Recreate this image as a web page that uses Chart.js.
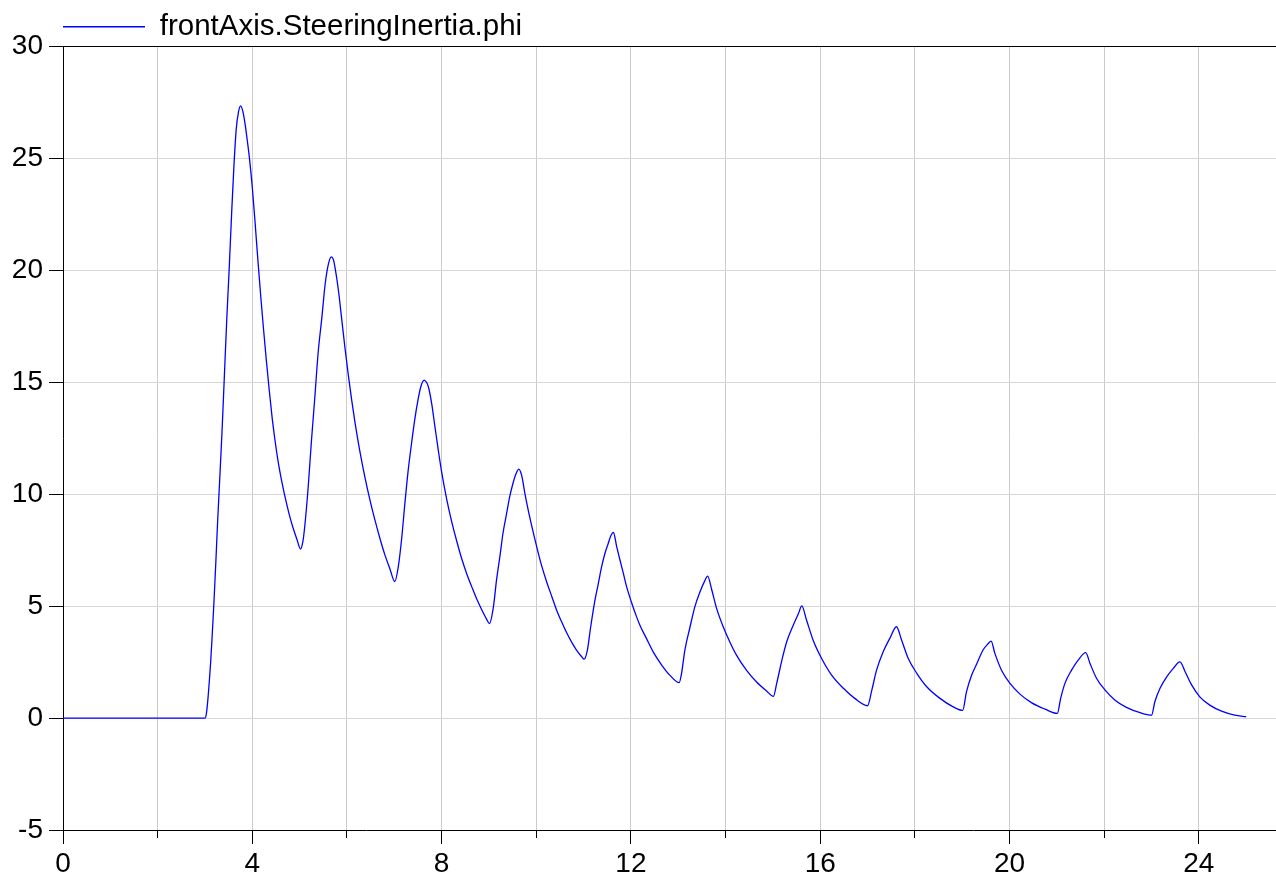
<!DOCTYPE html>
<html>
<head>
<meta charset="utf-8">
<script src="https://cdn.jsdelivr.net/npm/chart.js@4/dist/chart.umd.min.js"></script>
<style>
html,body{margin:0;padding:0;background:#fff;overflow:hidden}
canvas{display:block}
</style>
</head>
<body>
<canvas id="c" width="1276" height="879"></canvas>
<script>
// ---- data ----
const seriesLabel = 'frontAxis.SteeringInertia.phi';

const time = [
  0, 1, 2, 3.00, 3.03, 3.06, 3.09, 3.12, 3.15, 3.19, 3.23, 3.27, 3.31, 3.36, 3.41, 3.46, 3.51, 3.56, 3.61, 3.66, 3.71, 3.755, 3.80, 3.85,
  3.90, 3.94, 4.00, 4.06, 4.12, 4.18, 4.24, 4.30, 4.36, 4.42, 4.48, 4.55, 4.62, 4.70, 4.78, 4.86, 4.94, 5.02,
  5.07, 5.11, 5.18, 5.25, 5.32, 5.39, 5.47, 5.54, 5.61, 5.67, 5.71, 5.75, 5.82, 5.89, 5.96, 6.03, 6.10, 6.17, 6.27, 6.38, 6.49, 6.59, 6.70, 6.80, 6.91, 7.01,
  7.08, 7.15, 7.22, 7.29, 7.36, 7.43, 7.50, 7.56, 7.63, 7.68, 7.72, 7.79, 7.86, 7.93, 8.00, 8.11, 8.21, 8.32, 8.42, 8.53, 8.64, 8.74, 8.85, 8.95, 9.01,
  9.09, 9.16, 9.23, 9.30, 9.37, 9.44, 9.51, 9.57, 9.63, 9.69, 9.76, 9.83, 9.90, 10.01, 10.11, 10.22, 10.33, 10.43, 10.54, 10.64, 10.75, 10.85, 10.96, 11.01,
  11.08, 11.15, 11.24, 11.31, 11.38, 11.45, 11.52, 11.58, 11.63, 11.70, 11.77, 11.84, 11.91, 12.02, 12.12, 12.19, 12.33, 12.47, 12.65, 12.82, 13.02,
  13.07, 13.14, 13.25, 13.35, 13.46, 13.56, 13.62, 13.71, 13.81, 13.95, 14.09, 14.23, 14.44, 14.65, 14.87, 15.01,
  15.08, 15.19, 15.29, 15.43, 15.54, 15.61, 15.71, 15.85, 16.03, 16.24, 16.49, 16.73, 17.00,
  17.09, 17.19, 17.33, 17.47, 17.61, 17.72, 17.86, 18.04, 18.25, 18.53, 18.81, 19.01,
  19.09, 19.20, 19.31, 19.44, 19.55, 19.61, 19.69, 19.83, 20.01, 20.22, 20.47, 20.75, 21.01,
  21.08, 21.17, 21.31, 21.45, 21.61, 21.70, 21.84, 22.02, 22.23, 22.47, 22.76, 23.00,
  23.07, 23.18, 23.32, 23.46, 23.60, 23.71, 23.85, 24.02, 24.23, 24.48, 24.76, 25.00
];

const phi = [
  0, 0, 0, 0, 0.2, 0.8, 1.6, 2.5, 3.6, 5.2, 7.0, 8.9, 10.6, 12.8, 15.3, 17.8, 20.0, 22.4, 24.6, 26.3, 27.1, 27.35, 27.1, 26.5,
  25.7, 25.0, 23.7, 22.1, 20.4, 18.8, 17.3, 15.9, 14.6, 13.4, 12.4, 11.4, 10.6, 9.8, 9.1, 8.5, 8.0, 7.55,
  7.9, 8.6, 10.3, 12.4, 14.3, 16.3, 17.9, 19.4, 20.3, 20.6, 20.5, 20.1, 19.1, 17.8, 16.5, 15.3, 14.2, 13.2, 11.95, 10.75, 9.7, 8.85, 8.0, 7.3, 6.65, 6.1,
  6.7, 7.9, 9.5, 11.0, 12.2, 13.3, 14.2, 14.8, 15.1, 15.0, 14.8, 14.05, 13.0, 11.96, 11.0, 9.75, 8.8, 7.9, 7.15, 6.45, 5.85, 5.33, 4.83, 4.42, 4.22,
  4.9, 6.16, 7.2, 8.3, 9.1, 9.9, 10.5, 10.9, 11.12, 10.85, 10.03, 9.29, 8.62, 7.65, 6.83, 6.08, 5.42, 4.82, 4.28, 3.82, 3.38, 3.04, 2.74, 2.63,
  3.04, 4.08, 5.27, 6.0, 6.75, 7.35, 7.8, 8.17, 8.29, 7.65, 7.05, 6.46, 5.86, 5.12, 4.52, 4.15, 3.55, 2.96, 2.37, 1.92, 1.58,
  2.0, 3.04, 4.08, 4.97, 5.64, 6.13, 6.34, 5.71, 4.9, 4.08, 3.4, 2.81, 2.14, 1.62, 1.2, 0.97,
  1.55, 2.59, 3.4, 4.15, 4.67, 5.01, 4.38, 3.48, 2.66, 1.92, 1.33, 0.88, 0.55,
  1.25, 2.14, 2.96, 3.56, 4.08, 3.48, 2.66, 2.0, 1.4, 0.88, 0.5, 0.34,
  1.17, 1.92, 2.44, 3.04, 3.33, 3.44, 2.89, 2.14, 1.55, 1.07, 0.68, 0.4, 0.21,
  0.88, 1.55, 2.14, 2.59, 2.92, 2.44, 1.77, 1.25, 0.8, 0.48, 0.24, 0.13,
  0.73, 1.33, 1.84, 2.22, 2.51, 2.07, 1.47, 0.95, 0.58, 0.31, 0.13, 0.06
];

const xTickValues  = [0, 2, 4, 6, 8, 10, 12, 14, 16, 18, 20, 22, 24];
const xLabelValues = [0, 4, 8, 12, 16, 20, 24];
const yTickValues  = [-5, 0, 5, 10, 15, 20, 25, 30];

const X_MIN = 0, X_MAX = 25.63, Y_MIN = -5, Y_MAX = 30;

// ---- styling ----
const FONT = "'Liberation Sans', Arial, Helvetica, sans-serif";
const TICK_FONT_SIZE = 28;
const LEGEND_FONT_SIZE = 29.5;
const MAJOR_TICK = 14, MINOR_TICK = 8;

const alignPx = (p) => Math.round(p - 0.5) + 0.5;

const minorTicks = {
  id: 'minorTicks',
  afterDraw(chart) {
    const s = chart.scales.x;
    const c = chart.ctx;
    c.save();
    c.strokeStyle = '#000';
    c.lineWidth = 1;
    s.ticks.forEach(t => {
      if (!xLabelValues.includes(t.value)) {
        const px = alignPx(s.getPixelForValue(t.value));
        c.beginPath();
        c.moveTo(px, s.top);
        c.lineTo(px, s.top + MINOR_TICK);
        c.stroke();
      }
    });
    c.restore();
  }
};

const legendShift = {
  id: 'legendShift',
  afterLayout(chart) {
    const lg = chart.legend;
    if (!lg) return;
    const pad = lg.options.labels.padding;
    const dx = chart.chartArea.left - (lg.left + pad);
    lg.left += dx;
    lg.right += dx;
    lg.top += 5;
    lg.bottom += 5;
  }
};

new Chart(document.getElementById('c').getContext('2d'), {
  type: 'line',
  data: {
    datasets: [{
      label: seriesLabel,
      data: time.map((t, i) => ({ x: t, y: phi[i] })),
      borderColor: '#0000ff',
      backgroundColor: '#0000ff',
      borderWidth: 1.3,
      pointRadius: 0,
      cubicInterpolationMode: 'monotone',
      fill: false
    }]
  },
  options: {
    responsive: false,
    animation: false,
    devicePixelRatio: 1,
    layout: { padding: 0 },
    plugins: {
      legend: {
        display: true,
        position: 'top',
        align: 'start',
        labels: {
          font: { family: FONT, size: LEGEND_FONT_SIZE },
          color: '#000',
          usePointStyle: true,
          pointStyle: 'line',
          pointStyleWidth: 82,
          padding: 7
        }
      },
      tooltip: { enabled: false }
    },
    scales: {
      x: {
        type: 'linear',
        min: X_MIN,
        max: X_MAX,
        afterBuildTicks: s => { s.ticks = xTickValues.map(v => ({ value: v })); },
        afterFit: s => { s.height = 49; },
        ticks: {
          autoSkip: false,
          maxRotation: 0,
          padding: 3,
          color: '#000',
          font: { family: FONT, size: TICK_FONT_SIZE },
          callback: v => xLabelValues.includes(v) ? String(v) : ''
        },
        grid: {
          color: '#cccccc',
          lineWidth: 1,
          tickLength: MAJOR_TICK,
          tickColor: ctx => (ctx.tick && xLabelValues.includes(ctx.tick.value)) ? '#000' : 'rgba(0,0,0,0)'
        },
        border: { color: '#000', width: 1 }
      },
      y: {
        type: 'linear',
        min: Y_MIN,
        max: Y_MAX,
        afterBuildTicks: s => { s.ticks = yTickValues.map(v => ({ value: v })); },
        afterFit: s => { s.width = 63; },
        ticks: {
          padding: 6,
          color: '#000',
          font: { family: FONT, size: TICK_FONT_SIZE }
        },
        grid: {
          color: ctx => (ctx.tick && ctx.tick.value === Y_MAX) ? '#000' : '#d6d6d6',
          lineWidth: 1,
          tickLength: MAJOR_TICK,
          tickColor: '#000'
        },
        border: { color: '#000', width: 1 }
      }
    }
  },
  plugins: [minorTicks, legendShift]
});
</script>
</body>
</html>
